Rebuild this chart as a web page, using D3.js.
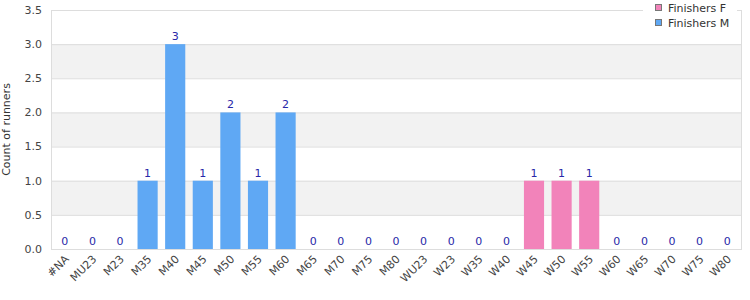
<!DOCTYPE html>
<html>
<head>
<meta charset="utf-8">
<script src="https://cdn.jsdelivr.net/npm/d3@7"></script>
<style>
  body { margin: 0; background: #fff; }
  svg text { font-family: "DejaVu Sans", sans-serif; }
</style>
</head>
<body>
<div id="chart"></div>
<script>
// ── Data ──────────────────────────────────────────────────────────────────────
const categories = ["#NA", "MU23", "M23", "M35", "M40", "M45", "M50", "M55", "M60", "M65", "M70", "M75", "M80",
    "WU23", "W23", "W35", "W40", "W45", "W50", "W55", "W60", "W65", "W70", "W75", "W80"];
const finishersM = [0, 0, 0, 1, 3, 1, 2, 1, 2, 0, 0, 0, 0, 0, 0, 0, 0, 0, 0, 0, 0, 0, 0, 0, 0];
const finishersF = [0, 0, 0, 0, 0, 0, 0, 0, 0, 0, 0, 0, 0, 0, 0, 0, 0, 1, 1, 1, 0, 0, 0, 0, 0];
const yTicks = [0, 0.5, 1, 1.5, 2, 2.5, 3, 3.5];
const seriesNames = ["Finishers F", "Finishers M"];
const seriesColors = { "Finishers F": "#f283ba", "Finishers M": "#5fa8f4" };

// ── Layout ────────────────────────────────────────────────────────────────────
const W = 750, H = 300;
const m = { top: 10, right: 9, bottom: 51, left: 51 };
const iw = W - m.left - m.right, ih = H - m.top - m.bottom;

const svg = d3.select("#chart").append("svg").attr("width", W).attr("height", H);
const g = svg.append("g").attr("transform", `translate(${m.left},${m.top})`);

const x = d3.scaleBand().domain(categories).range([0, iw]).paddingInner(0.27).paddingOuter(0.135);
const y = d3.scaleLinear().domain([0, 3.5]).range([ih, 0]);

// alternating bands
for (let i = 0; i < yTicks.length - 1; i++) {
    if (i % 2 === 1) {
        g.append("rect")
            .attr("x", 0).attr("width", iw)
            .attr("y", y(yTicks[i + 1])).attr("height", y(yTicks[i]) - y(yTicks[i + 1]))
            .attr("fill", "#f2f2f2");
    }
}
g.selectAll(".grid").data(yTicks).enter().append("line")
    .attr("x1", 0).attr("x2", iw)
    .attr("y1", d => y(d) + 0.5).attr("y2", d => y(d) + 0.5)
    .attr("stroke", "#dddddd");

// plot border
g.append("rect").attr("x", 0.5).attr("y", 0.5).attr("width", iw).attr("height", ih)
    .attr("fill", "none").attr("stroke", "#dddddd");

// bars (stacked)
const rows = categories.map((c, i) => ({ cat: c, "Finishers F": finishersF[i], "Finishers M": finishersM[i] }));
const stack = d3.stack().keys(seriesNames)(rows);
stack.forEach(s => {
    g.selectAll(null).data(s).enter().append("rect")
        .attr("x", d => x(d.data.cat))
        .attr("width", x.bandwidth())
        .attr("y", d => y(d[1]))
        .attr("height", d => y(d[0]) - y(d[1]))
        .attr("fill", seriesColors[s.key]);
});

// value labels
g.selectAll(".val").data(rows).enter().append("text")
    .attr("x", d => x(d.cat) + x.bandwidth() / 2)
    .attr("y", d => y(d["Finishers F"] + d["Finishers M"]) - 4)
    .attr("text-anchor", "middle")
    .attr("font-size", 11)
    .attr("fill", "#2828a8")
    .text(d => d["Finishers F"] + d["Finishers M"]);

// y axis labels
g.selectAll(".ytick").data(yTicks).enter().append("text")
    .attr("x", -9).attr("y", d => y(d)).attr("dy", "0.35em")
    .attr("text-anchor", "end").attr("font-size", 11).attr("fill", "#444")
    .text(d => d.toFixed(1));

// x axis labels
g.selectAll(".xtick").data(categories).enter().append("text")
    .attr("transform", d => `translate(${x(d) + x.bandwidth() / 2 + 2},${ih + 8}) rotate(-45)`)
    .attr("text-anchor", "end").attr("dy", "0.35em").attr("font-size", 11).attr("fill", "#444")
    .text(d => d);

// y title
svg.append("text")
    .attr("transform", `translate(10,${m.top + ih / 2}) rotate(-90)`)
    .attr("text-anchor", "middle").attr("font-size", 11).attr("fill", "#333")
    .text("Count of runners");

// legend
const lg = svg.append("g").attr("transform", "translate(643,0)");
lg.append("rect").attr("x", 0).attr("y", 0).attr("width", 94).attr("height", 34).attr("fill", "#fff");
seriesNames.forEach((name, i) => {
    lg.append("rect").attr("x", 12.5).attr("y", 4.5 + i * 15).attr("width", 6).attr("height", 6)
        .attr("fill", seriesColors[name]).attr("stroke", "#777");
    lg.append("text").attr("x", 25).attr("y", 8 + i * 15).attr("dy", "0.35em")
        .attr("font-size", 11).attr("fill", "#333").text(name);
});
</script>
</body>
</html>
